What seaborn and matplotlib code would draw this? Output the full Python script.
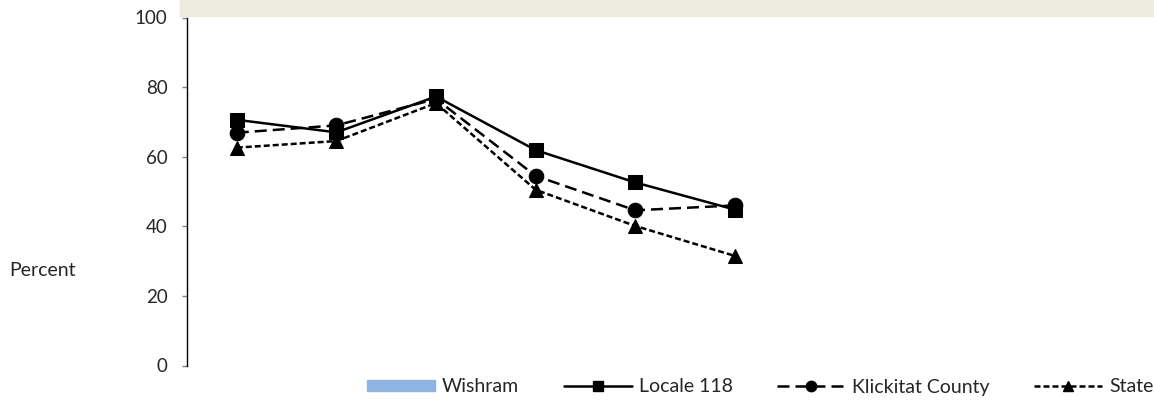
import matplotlib.pyplot as plt
import matplotlib.patches as mpatches
from matplotlib.lines import Line2D
import pandas as pd
import seaborn as sns

# data
points = [0, 1, 2, 3, 4, 5]
locale_118 = [70.6, 67.0, 77.3, 61.9, 52.6, 44.8]
klickitat = [66.9, 69.0, 76.6, 54.5, 44.6, 46.0]
state = [62.6, 64.5, 75.4, 50.5, 40.1, 31.5]
series_names = ["Wishram", "Locale 118", "Klickitat County", "State"]
y_ticks = [0, 20, 40, 60, 80, 100]

sns.set_style("white")
plt.rcParams["font.family"] = ["Lato", "DejaVu Sans"]

df = pd.DataFrame({
    "point": points * 3,
    "value": locale_118 + klickitat + state,
    "series": ["Locale 118"] * 6 + ["Klickitat County"] * 6 + ["State"] * 6,
})

fig = plt.figure(figsize=(11.54, 4.01), dpi=100)
ax = fig.add_axes([187 / 1154, 1 - 365.5 / 401, 963 / 1154, 348 / 401])

# beige title band at the top (title text cut off in the source)
fig.patches.append(mpatches.Rectangle((180 / 1154, 1 - 16 / 401), 1, 16 / 401,
                                      transform=fig.transFigure, color="#EDEBE0", zorder=0))

styles = {
    "Locale 118": dict(marker="s", dashes=None),
    "Klickitat County": dict(marker="o", dashes=(4.8, 2.4)),
    "State": dict(marker="^", dashes=(2.4, 1.2)),
}
handles = [mpatches.Patch(color="#8DB4E2", label="Wishram")]
for name in series_names[1:]:
    sub = df[df["series"] == name]
    st = styles[name]
    sns.lineplot(data=sub, x="point", y="value", ax=ax, color="black", lw=1.8,
                 marker=st["marker"], markersize=10.5, markeredgecolor="black",
                 legend=False)
    h = Line2D([0], [0], color="black", lw=1.8, marker=st["marker"],
               markersize=7.5, label=name)
    if st["dashes"] is not None:
        ax.lines[-1].set_dashes(st["dashes"])
        h.set_dashes(st["dashes"])
    handles.append(h)

ax.set_xlim(-0.5, -0.5 + 963 / 99.6)
ax.set_ylim(0, 100)
ax.set_yticks(y_ticks)
ax.set_xticks([])
ax.set_xlabel("")
ax.set_ylabel("")
ax.tick_params(axis="y", which="both", left=True, length=3.6, width=1, color="#808080",
               labelsize=13.5, pad=10.5)
for s in ["top", "right", "bottom"]:
    ax.spines[s].set_visible(False)
ax.spines["left"].set_color("black")
ax.spines["left"].set_linewidth(1)

fig.text(9 / 1154, 1 - 270 / 401, "Percent", fontsize=14, va="center", ha="left")

fig.legend(handles=handles, ncol=4, loc="center left",
           bbox_to_anchor=(367 / 1154, 1 - 387 / 401),
           frameon=False, fontsize=14, handlelength=3.5, handleheight=0.5,
           columnspacing=2.3, handletextpad=0.35, borderaxespad=0, borderpad=0)

fig.savefig("out.png", dpi=100)
